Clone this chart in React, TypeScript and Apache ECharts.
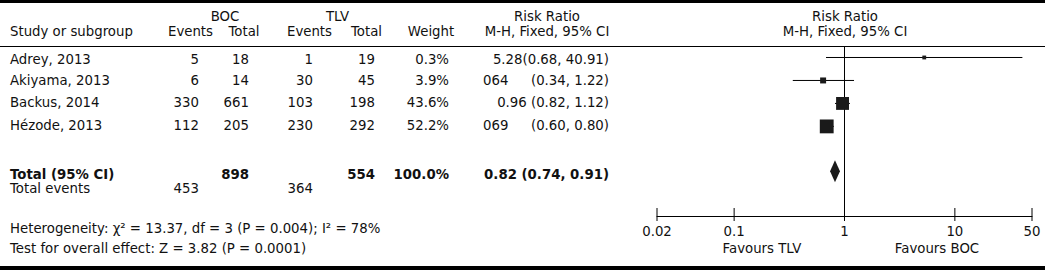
import React, { useEffect, useRef } from "react";
import * as echarts from "echarts";

// ---- data ----
const studies = ["Adrey, 2013", "Akiyama, 2013", "Backus, 2014", "Hézode, 2013"];
const bocEvents = [5, 6, 330, 112];
const bocTotal = [18, 14, 661, 205];
const tlvEvents = [1, 30, 103, 230];
const tlvTotal = [19, 45, 198, 292];
const weights = [0.3, 3.9, 43.6, 52.2];
const rr = [5.28, 0.64, 0.96, 0.69];
const ciLow = [0.68, 0.34, 0.82, 0.6];
const ciHigh = [40.91, 1.22, 1.12, 0.8];
// point-estimate text exactly as printed in the source table
const rrText = ["5.28", "064", "0.96", "069"];
const ciText = ["(0.68, 40.91)", "(0.34, 1.22)", "(0.82, 1.12)", "(0.60, 0.80)"];
const rrJoin = ["", null, " ", null]; // null: estimate printed apart from CI

const totalRR = 0.82;
const totalLow = 0.74;
const totalHigh = 0.91;
const totalBocN = 898;
const totalTlvN = 554;
const totalWeight = "100.0%";
const totalBocEvents = 453;
const totalTlvEvents = 364;

const axisTicks = [0.02, 0.1, 1, 10, 50];
const heterogeneityText = "Heterogeneity: χ² = 13.37, df = 3 (P = 0.004); I² = 78%";
const overallText = "Test for overall effect: Z = 3.82 (P = 0.0001)";

// ---- layout ----
const W = 1045;
const H = 270;
const FONT = "DejaVu Sans";
const FS = 13.3;
const studyRows = [0.5, 1.5, 2.5, 3.5];
const totalRow = 5.45;
const yMax = 7.4;
const rowTextY = [59.5, 80.5, 102, 125.5];

function txt(x: number, y: number, text: string, align = "left", bold = false, size = FS) {
  return {
    type: "text",
    x,
    y,
    silent: true,
    style: {
      text,
      fill: "#111",
      align,
      verticalAlign: "middle",
      fontFamily: FONT,
      fontSize: size,
      fontWeight: bold ? "bold" : "normal",
    },
  };
}

export default function App() {
  const ref = useRef<HTMLDivElement>(null);
  useEffect(() => {
    if (!ref.current) return;
    const chart = echarts.init(ref.current, undefined, { renderer: "svg" });

    const g: any[] = [];
    g.push({ type: "rect", shape: { x: 0, y: 0, width: W, height: 3 }, style: { fill: "#000" } });
    g.push({ type: "rect", shape: { x: 0, y: 266, width: W, height: 4 }, style: { fill: "#000" } });
    g.push({ type: "rect", shape: { x: 0, y: 46, width: W, height: 1 }, style: { fill: "#000" } });

    // headers
    g.push(txt(10, 31, "Study or subgroup"));
    g.push(txt(225, 16.5, "BOC", "center"));
    g.push(txt(337.5, 16.5, "TLV", "center"));
    g.push(txt(190.5, 31, "Events", "center"));
    g.push(txt(244, 31, "Total", "center"));
    g.push(txt(309.5, 31, "Events", "center"));
    g.push(txt(366.5, 31, "Total", "center"));
    g.push(txt(431, 31, "Weight", "center"));
    g.push(txt(547, 16, "Risk Ratio", "center"));
    g.push(txt(547, 31, "M-H, Fixed, 95% CI", "center"));
    g.push(txt(845, 16, "Risk Ratio", "center"));
    g.push(txt(845, 31, "M-H, Fixed, 95% CI", "center"));

    studies.forEach((s, i) => {
      const y = rowTextY[i];
      g.push(txt(10, y, s));
      g.push(txt(199, y, String(bocEvents[i]), "right"));
      g.push(txt(249, y, String(bocTotal[i]), "right"));
      g.push(txt(313, y, String(tlvEvents[i]), "right"));
      g.push(txt(375, y, String(tlvTotal[i]), "right"));
      g.push(txt(449, y, weights[i].toFixed(1) + "%", "right"));
      if (rrJoin[i] === null) {
        g.push(txt(483, y, rrText[i], "left"));
        g.push(txt(609, y, ciText[i], "right"));
      } else {
        g.push(txt(609, y, rrText[i] + rrJoin[i] + ciText[i], "right"));
      }
    });

    g.push(txt(10, 174, "Total (95% CI)", "left", true));
    g.push(txt(249, 174, String(totalBocN), "right", true));
    g.push(txt(375, 174, String(totalTlvN), "right", true));
    g.push(txt(449, 174, totalWeight, "right", true));
    g.push(
      txt(609, 174, `${totalRR.toFixed(2)} (${totalLow.toFixed(2)}, ${totalHigh.toFixed(2)})`, "right", true)
    );
    g.push(txt(10, 188, "Total events"));
    g.push(txt(199, 188, String(totalBocEvents), "right"));
    g.push(txt(313, 188, String(totalTlvEvents), "right"));
    g.push(txt(10, 228, heterogeneityText));
    g.push(txt(10, 248.5, overallText));
    g.push(txt(762, 248.5, "Favours TLV", "center"));
    g.push(txt(937, 248.5, "Favours BOC", "center"));

    const option: any = {
      animation: false,
      backgroundColor: "#fff",
      grid: { left: 657, right: W - 1032, top: 46, bottom: H - 216 },
      xAxis: {
        type: "log",
        logBase: 10,
        min: 0.02,
        max: 50,
        position: "bottom",
        axisLine: { show: true, onZero: false, lineStyle: { color: "#000", width: 1 } },
        axisTick: { show: false },
        axisLabel: { show: false },
        splitLine: { show: false },
      },
      yAxis: {
        type: "value",
        min: 0,
        max: yMax,
        inverse: true,
        show: false,
      },
      graphic: g,
      series: [
        {
          type: "custom",
          name: "null line",
          silent: true,
          data: [[1]],
          encode: { x: 0 },
          renderItem: (_p: any, api: any) => {
            const a = api.coord([api.value(0), 0]);
            const b = api.coord([api.value(0), yMax]);
            return {
              type: "line",
              shape: { x1: a[0], y1: a[1], x2: b[0], y2: b[1] },
              style: { stroke: "#000", lineWidth: 1 },
            };
          },
        },
        {
          type: "custom",
          name: "ticks",
          silent: true,
          data: axisTicks.map((v) => [v]),
          encode: { x: 0 },
          renderItem: (_p: any, api: any) => {
            const v = api.value(0);
            const p = api.coord([v, yMax]);
            return {
              type: "group",
              children: [
                {
                  type: "line",
                  shape: { x1: p[0], y1: p[1] - 8, x2: p[0], y2: p[1] + 5 },
                  style: { stroke: "#000", lineWidth: 1 },
                },
                {
                  type: "text",
                  x: p[0],
                  y: p[1] + 15,
                  style: {
                    text: String(v),
                    fill: "#111",
                    align: "center",
                    verticalAlign: "middle",
                    fontFamily: FONT,
                    fontSize: FS,
                  },
                },
              ],
            };
          },
        },
        {
          type: "custom",
          name: "studies",
          silent: true,
          data: studies.map((_, i) => [ciLow[i], ciHigh[i], rr[i], studyRows[i], weights[i]]),
          encode: { x: [0, 1, 2], y: 3 },
          renderItem: (_p: any, api: any) => {
            const row = api.value(3);
            const lo = api.coord([api.value(0), row]);
            const hi = api.coord([api.value(1), row]);
            const c = api.coord([api.value(2), row]);
            const size = 3 + 1.5 * Math.sqrt(api.value(4));
            return {
              type: "group",
              children: [
                {
                  type: "line",
                  shape: { x1: lo[0], y1: lo[1], x2: hi[0], y2: hi[1] },
                  style: { stroke: "#000", lineWidth: 1 },
                },
                {
                  type: "rect",
                  shape: { x: c[0] - size / 2, y: c[1] - size / 2, width: size, height: size },
                  style: { fill: "#1a1a1a" },
                },
              ],
            };
          },
        },
        {
          type: "custom",
          name: "total",
          silent: true,
          data: [[totalLow, totalHigh, totalRR, totalRow]],
          encode: { x: [0, 1, 2], y: 3 },
          renderItem: (_p: any, api: any) => {
            const row = api.value(3);
            const lo = api.coord([api.value(0), row]);
            const hi = api.coord([api.value(1), row]);
            const c = api.coord([api.value(2), row]);
            const h = 11;
            return {
              type: "polygon",
              shape: {
                points: [
                  [lo[0], lo[1]],
                  [c[0], c[1] - h],
                  [hi[0], hi[1]],
                  [c[0], c[1] + h],
                ],
              },
              style: { fill: "#1a1a1a" },
            };
          },
        },
      ],
    };
    chart.setOption(option);
    return () => chart.dispose();
  }, []);

  return (
    <div
      ref={ref}
      style={{ position: "absolute", left: 0, top: 0, width: W, height: H, background: "#fff" }}
    />
  );
}
